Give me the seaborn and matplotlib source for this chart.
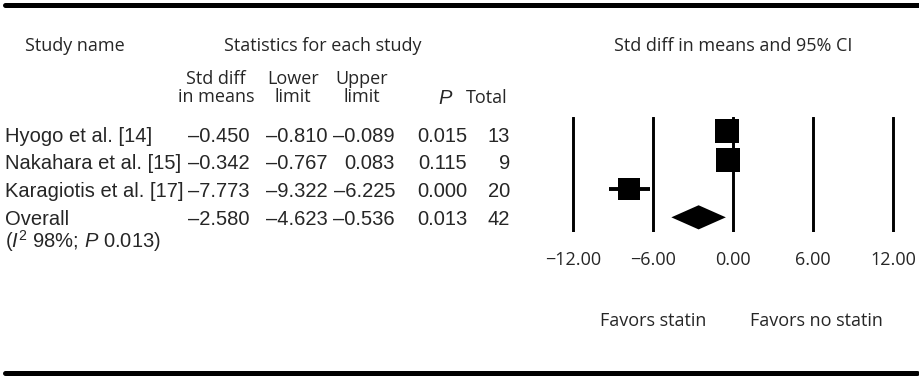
import matplotlib.pyplot as plt
import seaborn as sns
import pandas as pd

# Data
studies = ["Hyogo et al. [14]", "Nakahara et al. [15]", "Karagiotis et al. [17]", "Overall"]
std_diff = [-0.450, -0.342, -7.773, -2.580]
lower = [-0.810, -0.767, -9.322, -4.623]
upper = [-0.089, 0.083, -6.225, -0.536]
p_vals = [0.015, 0.115, 0.000, 0.013]
totals = [13, 9, 20, 42]
x_ticks = [-12, -6, 0, 6, 12]

sns.set_theme(style="white")
plt.rcParams["font.family"] = ["Liberation Sans", "DejaVu Sans"]
plt.rcParams["mathtext.fontset"] = "custom"
plt.rcParams["mathtext.rm"] = "Liberation Sans"
plt.rcParams["mathtext.it"] = "Liberation Sans:italic"

W, H = 919, 379
fig = plt.figure(figsize=(W / 100, H / 100), dpi=100)


def px(x, y):
    return x / W, 1 - y / H


HEAD = "Open Sans"
hs = 13     # header font size
ts = 14.5   # table font size

# rules top and bottom
fig.add_artist(plt.Line2D([5 / W, 1], [1 - 5 / H] * 2, color="black", lw=3.6))
fig.add_artist(plt.Line2D([5 / W, 917 / W], [1 - 373 / H] * 2, color="black", lw=3.6))

# headers
fig.text(*px(75, 46), "Study name", family=HEAD, fontsize=hs, ha="center", va="center")
fig.text(*px(323, 46), "Statistics for each study", family=HEAD, fontsize=hs, ha="center", va="center")
fig.text(*px(733, 46), "Std diff in means and 95% CI", family=HEAD, fontsize=hs, ha="center", va="center")

col_heads = [("Std diff\nin means", 216), ("Lower\nlimit", 293), ("Upper\nlimit", 362)]
for lab, cx in col_heads:
    fig.text(*px(cx, 88), lab, family=HEAD, fontsize=hs, ha="center", va="center",
             linespacing=0.95)
fig.text(*px(445, 98), "P", fontsize=ts, style="italic", ha="center", va="center")
fig.text(*px(487, 98), "Total", family=HEAD, fontsize=hs, ha="center", va="center")

# table rows
fmt = lambda v: f"{v:.3f}".replace("-", "\u2013")
baselines = [142, 169, 197, 225]
right_edges = [250, 328, 395, 467, 510]
for i, name in enumerate(studies):
    yb = baselines[i]
    fig.text(*px(5, yb), name, fontsize=ts, ha="left", va="baseline")
    vals = [fmt(std_diff[i]), fmt(lower[i]), fmt(upper[i]), f"{p_vals[i]:.3f}", str(totals[i])]
    for v, xr in zip(vals, right_edges):
        fig.text(*px(xr, yb), v, fontsize=ts, ha="right", va="baseline")
fig.text(*px(5, 248), "($I^2$ 98%; $P$ 0.013)", fontsize=ts, ha="left", va="baseline")

# forest plot axes
ax = fig.add_axes([553 / W, 1 - 232 / H, 360 / W, 115 / H])
ax.set_xlim(-13.5, 13.5)
ax.set_ylim(3.51, -0.49)
for t in x_ticks:
    ax.axvline(t, color="black", lw=2.1, zorder=1)

n = len(studies) - 1
ax.hlines(range(n), lower[:n], upper[:n], color="black", lw=2.8, zorder=2)
df = pd.DataFrame({"est": std_diff[:n], "row": range(n)})
box_pts = [17.5, 17.5, 16]
for i in range(n):
    sns.scatterplot(data=df.iloc[[i]], x="est", y="row", marker="s", s=box_pts[i] ** 2,
                    color="black", edgecolor="black", linewidth=0, ax=ax, zorder=3,
                    legend=False)
# overall diamond
h = 0.42
ax.fill([lower[n], std_diff[n], upper[n], std_diff[n]], [n, n - h, n, n + h],
        color="black", lw=0, zorder=3)

ax.set_xticks(x_ticks)
ax.set_xticklabels([f"{t:.2f}".replace("-", "\u2212") for t in x_ticks],
                   family=HEAD, fontsize=hs)
ax.tick_params(axis="x", length=0, pad=14)
ax.set_yticks([])
ax.set_xlabel("")
ax.set_ylabel("")
for s in ax.spines.values():
    s.set_visible(False)
ax.set_facecolor("none")

fig.text(*px(653, 321), "Favors statin", family=HEAD, fontsize=hs, ha="center", va="center")
fig.text(*px(816, 321), "Favors no statin", family=HEAD, fontsize=hs, ha="center", va="center")

fig.savefig("out.png", dpi=100)
